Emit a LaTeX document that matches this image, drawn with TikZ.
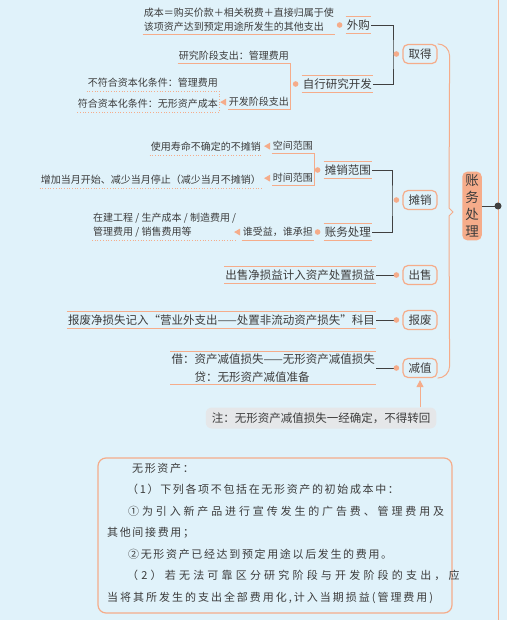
\documentclass[tikz,border=0pt]{standalone}
\usepackage{fontspec}
\setmainfont{Noto Sans CJK SC}
\newfontfamily\boxfont[LetterSpace=15]{Noto Sans CJK SC}
\newfontfamily\boxfontw[LetterSpace=26]{Noto Sans CJK SC}
\newfontfamily\boxfontx[LetterSpace=29]{Noto Sans CJK SC}
\newfontfamily\boxfonty[LetterSpace=18]{Noto Sans CJK SC}
\usetikzlibrary{arrows.meta,calc,positioning}
\definecolor{mapbg}{RGB}{224,242,250}
\definecolor{maporange}{RGB}{245,172,138}
\definecolor{mapdark}{RGB}{64,64,64}
\definecolor{maptext}{RGB}{60,60,60}
\definecolor{notegray}{RGB}{229,231,233}
\definecolor{rootfill}{RGB}{246,172,138}
% small left-pointing tip in front of a leaf
\newcommand\tipat[1]{\fill[maporange] ($(#1)+(-1.5,-3.5)$) -- ++(0,7) -- ++(-6,-3.5) -- cycle;}

\begin{document}
\begin{tikzpicture}[x=1pt,y=-1pt,font=\fontsize{10}{14}\selectfont,text=maptext,
    oline/.style={draw=maporange,line width=1pt},
    dline/.style={draw=mapdark,line width=0.9pt},
    dotline/.style={draw=maporange,line width=0.9pt,dash pattern=on 0.9pt off 1.8pt},
    rootbox/.style={fill=rootfill,rounded corners=5pt,inner xsep=3pt,inner ysep=3pt,align=center,font=\fontsize{13.5}{17}\selectfont},
    topicbox/.style={draw=maporange,line width=1.2pt,rounded corners=5pt,minimum width=34pt,minimum height=19pt,inner sep=2pt,font=\fontsize{11.5}{14}\selectfont},
    subtopic/.style={inner xsep=1pt,inner ysep=2pt,minimum height=17pt,font=\fontsize{11.5}{14}\selectfont},
    leaf/.style={inner xsep=1pt,inner ysep=3pt,align=left},
    bigleaf/.style={inner xsep=1pt,inner ysep=2pt,align=left,font=\fontsize{11.5}{18}\selectfont},
    notebox/.style={fill=notegray,rounded corners=6pt,inner xsep=6pt,minimum height=21pt,font=\fontsize{11.5}{14}\selectfont},
    textbox/.style={draw=maporange,line width=1.2pt,rounded corners=8pt,minimum width=354pt,minimum height=155pt}]
  \path[use as bounding box,fill=mapbg] (0,0) rectangle (507,620);

  % root and axis
  \coordinate (axtop) at (498,0);
  \coordinate (axbot) at (498,620);
  \draw[oline] (axtop) -- (axbot);
  \node[rootbox] (zwcl) at (472,206) {账\\务\\处\\理};
  \coordinate (rootdot) at (498,206);
  \draw[dline] (zwcl) -- (rootdot);
  \fill[mapdark] (rootdot) circle (3.5);

  % second level
  \node[topicbox] (qude) at (420,54) {取得};
  \node[topicbox] (tanxiao) at (420,200) {摊销};
  \node[topicbox] (chushou) at (420,275) {出售};
  \node[topicbox] (baofei) at (420,320) {报废};
  \node[topicbox] (jianzhi) at (420,368) {减值};
  \draw[oline] (qude.north east) to[out=0,in=90] ++(12,12) -- (449,208) -- (453,212) -- (449,216)
    -- ($(jianzhi.south east)+(12,-12)$) to[out=-90,in=0] (jianzhi.south east);

  % third level
  \node[subtopic,anchor=east] (waigou) at (371,25) {外购};
  \node[subtopic,anchor=east] (zixing) at (373,84) {自行研究开发};
  \node[subtopic,anchor=east] (fanwei) at (372,170) {摊销范围};
  \node[subtopic,anchor=east] (zhangwu) at (372,232) {账务处理};
  \node[subtopic,anchor=east] (csleaf) at (376,275) {出售净损益计入资产处置损益};
  \node[subtopic,anchor=east] (bfleaf) at (376,320) {报废净损失记入“营业外支出——处置非流动资产损失”科目};
  \node[bigleaf,anchor=east] (jzleaf) at (376,368) {借：资产减值损失——无形资产减值损失\\\hspace{23pt}贷：无形资产减值准备};
  \foreach \n in {waigou,zixing,fanwei,zhangwu,csleaf,bfleaf,jzleaf}
    \draw[oline] (\n.north west) -- (\n.north east) (\n.south west) -- (\n.south east);

  \coordinate (qbr) at (393,54);
  \coordinate (tbr) at (392,200);
  \draw[dline] (waigou.east) -| (qbr) |- (zixing.east);
  \draw[dline] (fanwei.east) -| (tbr) |- (zhangwu.east);

  % dots
  \foreach \n in {qude,tanxiao,chushou,baofei,jianzhi,waigou,zixing,fanwei,zhangwu}
    \coordinate (\n-dot) at ($(\n.west)+(-6,0)$);
  \draw[dline] (csleaf.east) -- (chushou-dot);
  \draw[dline] (bfleaf.east) -- (baofei-dot);
  \draw[dline] (jzleaf.east) -- (jianzhi-dot);
  \foreach \n in {qude,tanxiao,chushou,baofei,jianzhi,waigou,zixing,fanwei,zhangwu}
    \fill[maporange] (\n-dot) circle (2.8);

  % leaves
  \node[leaf,anchor=south east] (wgcost) at (335,35) {成本＝购买价款＋相关税费＋直接归属于使\\该项资产达到预定用途所发生的其他支出};
  \node[leaf,anchor=south east] (yanjiu) at (290,64) {研究阶段支出：管理费用};
  \node[leaf,anchor=south east] (kaifa) at (290,110) {开发阶段支出};
  \node[leaf,anchor=south east] (buhe) at (219,91) {不符合资本化条件：管理费用};
  \node[leaf,anchor=south east] (fuhe) at (219,112) {符合资本化条件：无形资产成本};
  \node[leaf,anchor=south east] (kongjian) at (314,154) {空间范围};
  \node[leaf,anchor=south east] (shijian) at (314,186) {时间范围};
  \node[leaf,anchor=south east] (bumotan) at (262,155) {使用寿命不确定的不摊销};
  \node[leaf,anchor=south east] (dangyue) at (262,188) {增加当月开始、减少当月停止（减少当月不摊销）};
  \node[leaf,anchor=south east] (shouyi) at (314,240) {谁受益，谁承担};
  \node[leaf,anchor=south west] (kemu) at (92,240) {在建工程 / 生产成本 / 制造费用 /\\管理费用 / 销售费用等};

  \draw[oline] (wgcost.south west) -- (wgcost.south east);
  \draw[oline] (shouyi.south west) -- (shouyi.south east);
  \draw[oline] (yanjiu.south west) -- (yanjiu.south east) -- (kaifa.south east) -- (kaifa.south west);
  \draw[oline] (kongjian.south west) -- (kongjian.south east) -- (shijian.south east) -- (shijian.south west);
  \draw[dotline] (buhe.south west) -- (buhe.south east) -- (fuhe.south east) -- (fuhe.south west);
  \foreach \n in {bumotan,dangyue,kemu}
    \draw[dotline] (\n.south west) -- (\n.south east);
  \tipat{kaifa.west}
  \tipat{kongjian.west}
  \tipat{shijian.west}
  \tipat{shouyi.west}

  % note
  \node[notebox] (zhu) at (321,418) {注：无形资产减值损失一经确定，不得转回};
  \draw[oline,-{Triangle[length=7pt,width=7pt]},shorten >=2pt] (zhu.north -| jianzhi) -- (jianzhi.south);

  % explanation box
  \node[textbox] (shuoming) at (275,535.5) {};
  \node[anchor=north west,inner sep=0pt,align=left,font=\boxfont\fontsize{11}{21.5}\selectfont] (smtext) at (107,463) {%
    \hspace{25pt}无形资产：\\
    \hspace{20pt}（1）下列各项不包括在无形资产的初始成本中：\\
    \hspace{21pt}{\boxfontw ①为引入新产品进行宣传发生的广告费、管理费用及}\\
    其他间接费用；\\
    \hspace{21pt}②无形资产已经达到预定用途以后发生的费用。\\
    \hspace{20pt}{\boxfontx （2）若无法可靠区分研究阶段与开发阶段的支出，应}\\
    {\boxfonty 当将其所发生的支出全部费用化,计入当期损益(管理费用)}};
\end{tikzpicture}
\end{document}
